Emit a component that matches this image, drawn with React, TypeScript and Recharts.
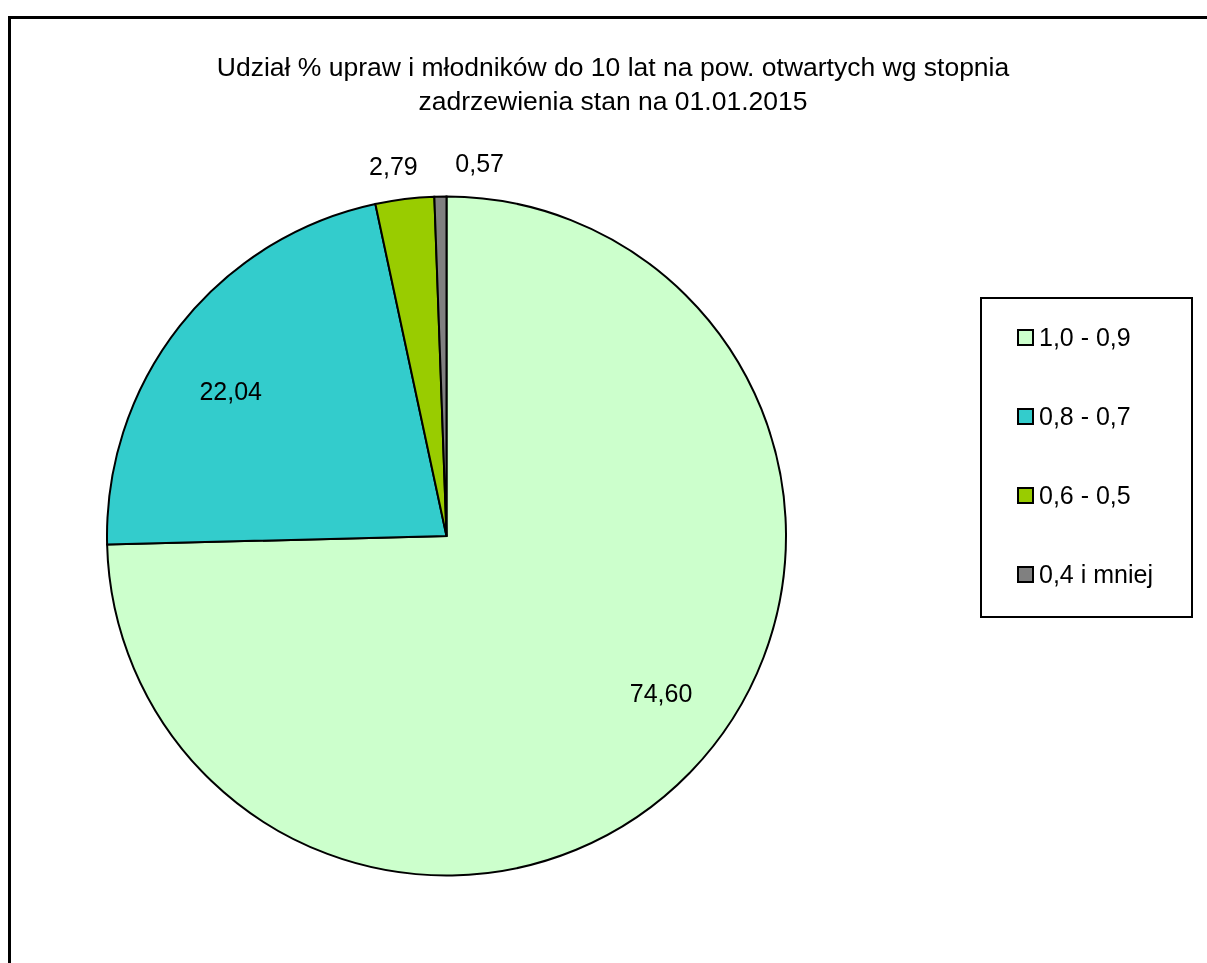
import { PieChart, Pie, Cell, Legend } from 'recharts'

const categories = ['1,0 - 0,9', '0,8 - 0,7', '0,6 - 0,5', '0,4 i mniej']
const shares = [74.6, 22.04, 2.79, 0.57]
const colors = ['#CCFFCC', '#33CCCC', '#99CC00', '#808080']

const titleLines = [
  'Udział % upraw i młodników do 10 lat na pow. otwartych wg stopnia',
  'zadrzewienia stan na 01.01.2015',
]

const FONT = '"Liberation Sans", Arial, sans-serif'
const RADIAN = Math.PI / 180

// label placement per slice: radius as a fraction of the pie radius, plus an angle nudge
const labelPlacement = [
  { r: 0.783, shift: 8.1 },
  { r: 0.766, shift: 4.3 },
  { r: 1.1, shift: 1.1 },
  { r: 1.103, shift: -6.1 },
]

const data = categories.map((name, i) => ({ name, value: shares[i] }))

function SliceLabel(props: any) {
  const { cx, cy, midAngle, outerRadius, index, value } = props
  const p = labelPlacement[index]
  const r = outerRadius * p.r
  const a = (midAngle + p.shift) * RADIAN
  const x = cx + r * Math.cos(-a)
  const y = cy + r * Math.sin(-a)
  return (
    <text x={x} y={y + 9} textAnchor="middle" fontSize={25} fontFamily={FONT} fill="#000">
      {Number(value).toFixed(2).replace('.', ',')}
    </text>
  )
}

function LegendBox(props: any) {
  // keep the legend in category order, whatever order the payload arrives in
  const items = [...(props.payload || [])].sort(
    (a: any, b: any) => categories.indexOf(a.value) - categories.indexOf(b.value)
  )
  return (
    <div
      style={{
        position: 'relative',
        width: 213,
        height: 321,
        boxSizing: 'border-box',
        border: '2px solid #000',
        background: '#fff',
        fontFamily: FONT,
        fontSize: 25,
      }}
    >
      {items.map((it: any, i: number) => (
        <div key={i}>
          <div
            style={{
              position: 'absolute',
              left: 35,
              top: 30 + i * 79,
              width: 17,
              height: 17,
              boxSizing: 'border-box',
              border: '2px solid #000',
              background: it.color,
            }}
          />
          <div
            style={{
              position: 'absolute',
              left: 57,
              top: 24 + i * 79,
              lineHeight: '29px',
              whiteSpace: 'nowrap',
              color: '#000',
            }}
          >
            {it.value}
          </div>
        </div>
      ))}
    </div>
  )
}

export default function App() {
  return (
    <div style={{ position: 'relative', width: 1191, height: 947 }}>
      <div
        style={{
          position: 'fixed',
          left: 8,
          top: 16,
          right: -10,
          bottom: -10,
          borderTop: '3px solid #000',
          borderLeft: '3px solid #000',
        }}
      />
      <div
        style={{
          position: 'absolute',
          left: 105,
          top: 42,
          width: 1000,
          textAlign: 'center',
          fontFamily: FONT,
          fontSize: 26.5,
          lineHeight: '34px',
          color: '#000',
        }}
      >
        {titleLines.map((t) => (
          <div key={t}>{t}</div>
        ))}
      </div>
      <PieChart width={1191} height={947} margin={{ top: 0, right: 0, bottom: 0, left: 0 }}>
        <Pie
          data={data}
          dataKey="value"
          nameKey="name"
          cx={438.5}
          cy={528}
          outerRadius={339.5}
          startAngle={90}
          endAngle={-270}
          stroke="#000"
          strokeWidth={2}
          label={SliceLabel}
          labelLine={false}
          isAnimationActive={false}
        >
          {data.map((d, i) => (
            <Cell key={d.name} fill={colors[i]} />
          ))}
        </Pie>
        <Legend
          layout="vertical"
          align="right"
          verticalAlign="middle"
          content={LegendBox}
          wrapperStyle={{ left: 972, top: 289, width: 213, height: 321 }}
        />
      </PieChart>
    </div>
  )
}
